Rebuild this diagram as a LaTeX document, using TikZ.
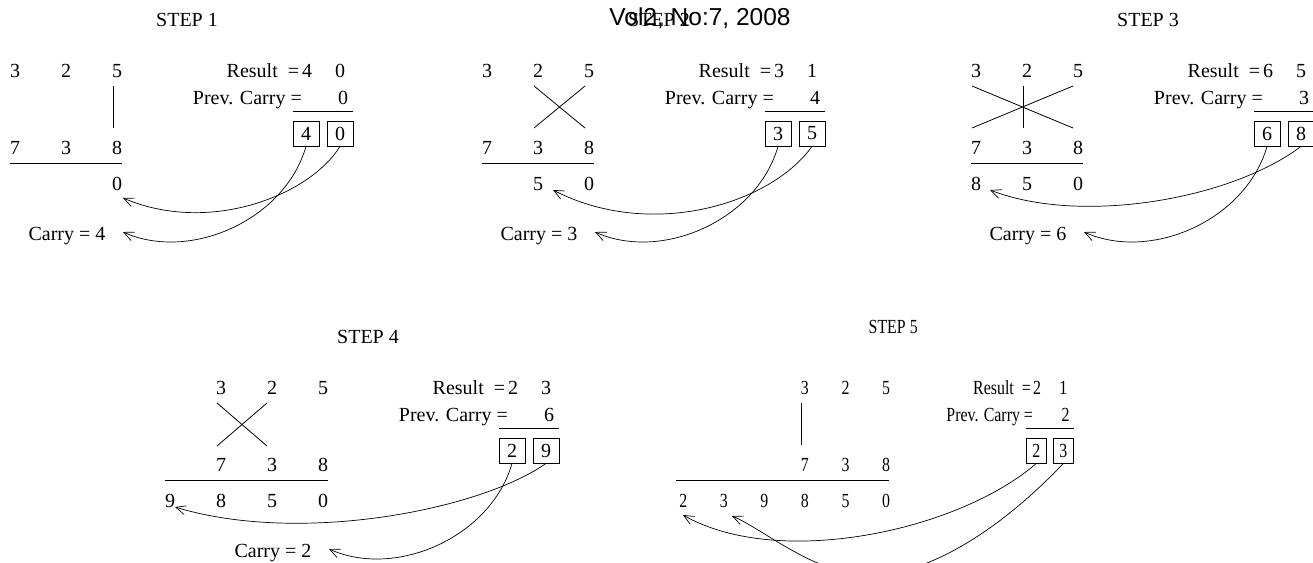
\documentclass[tikz,border=0pt]{standalone}
\usepackage{fontspec}
\setmainfont{Liberation Serif}
\newfontfamily\headfont{Liberation Sans}
\usetikzlibrary{arrows.meta}

\tikzset{
  num/.style={anchor=base, inner sep=0pt},
  lbl/.style={anchor=base east, inner sep=0pt},
  digbox/.style={draw, line width=0.8pt, minimum width=26pt, minimum height=25pt, inner sep=0pt},
  rule/.style={line width=0.8pt},
  carry/.style={line width=0.7pt, -{Straight Barb[length=10pt,width=9pt,line width=0.7pt]}}
}

\begin{document}
\begin{tikzpicture}[x=1pt, y=-1pt, font=\fontsize{20}{24}\selectfont]
  \useasboundingbox (0,0) rectangle (1313,562);
  \clip (0,0) rectangle (1313,562);

  % step 1
  \node[num] (s1st) at (187,26) {STEP 1};
  \foreach \x/\d [count=\i] in {15/3,66/2,117/5} \node[num] (s1t\i) at (\x,77.5) {\d};
  \foreach \x/\d [count=\i] in {15/7,66/3,117/8} \node[num] (s1b\i) at (\x,154.5) {\d};
  \node[num] (s1p3) at (117,190) {0};
  \draw[rule] (10,163) -- (122,163);
  \draw[rule] (113,86) -- (113,128);
  \node[lbl] (s1res) at (278,77.5) {Result};
  \node[num] (s1eq) at (300,77.5) {=\kern3pt4};
  \node[num] (s1r0) at (340,77.5) {0};
  \node[lbl] (s1prev) at (302,104.5) {Prev. Carry =};
  \node[num] (s1pc) at (343,104.5) {0};
  \draw[rule] (293,111) -- (353,111);
  \node[digbox] (s1ba) at (306,133.5) {4};
  \node[digbox] (s1bb) at (340,133.5) {0};
  \node[num] (s1c) at (67,240) {Carry = 4};
  \coordinate (s1tc) at (123,232);
  \coordinate (s1tr) at (123,198);
  \draw[carry] (s1ba.south) .. controls (285,220) and (190,262) .. (s1tc);
  \draw[carry] (s1bb.south) .. controls (310,195) and (210,235) .. (s1tr);

  % step 2
  \begin{scope}[shift={(472,0)}]
    \node[num] (s2st) at (187,26) {STEP 2};
    \foreach \x/\d [count=\i] in {15/3,66/2,117/5} \node[num] (s2t\i) at (\x,77.5) {\d};
    \foreach \x/\d [count=\i] in {15/7,66/3,117/8} \node[num] (s2b\i) at (\x,154.5) {\d};
    \foreach \x/\d [count=\i] in {66/5,117/0} \node[num] (s2p\i) at (\x,190) {\d};
    \draw[rule] (10,163) -- (122,163);
    \draw[rule] (62,86) -- (113,128);
    \draw[rule] (113,86) -- (62,128);
    \node[lbl] (s2res) at (278,77.5) {Result};
    \node[num] (s2eq) at (300,77.5) {=\kern3pt3};
    \node[num] (s2r0) at (340,77.5) {1};
    \node[lbl] (s2prev) at (302,104.5) {Prev. Carry =};
    \node[num] (s2pc) at (343,104.5) {4};
    \draw[rule] (293,111) -- (353,111);
    \node[digbox] (s2ba) at (306,133.5) {3};
    \node[digbox] (s2bb) at (340,133.5) {5};
    \node[num] (s2c) at (67,240) {Carry = 3};
    \coordinate (s2tc) at (123,232);
    \coordinate (s2tr) at (81,190);
    \draw[carry] (s2ba.south) .. controls (285,220) and (190,262) .. (s2tc);
    \draw[carry] (s2bb.south) .. controls (298,205) and (178,240) .. (s2tr);
  \end{scope}

  % step 3
  \begin{scope}[shift={(961,0)}]
    \node[num] (s3st) at (187,26) {STEP 3};
    \foreach \x/\d [count=\i] in {15/3,66/2,117/5} \node[num] (s3t\i) at (\x,77.5) {\d};
    \foreach \x/\d [count=\i] in {15/7,66/3,117/8} \node[num] (s3b\i) at (\x,154.5) {\d};
    \foreach \x/\d [count=\i] in {15/8,66/5,117/0} \node[num] (s3p\i) at (\x,190) {\d};
    \draw[rule] (10,163) -- (122,163);
    \draw[rule] (11,86) -- (112,128);
    \draw[rule] (112,86) -- (11,128);
    \draw[rule] (62,86) -- (62,128);
    \node[lbl] (s3res) at (278,77.5) {Result};
    \node[num] (s3eq) at (300,77.5) {=\kern3pt6};
    \node[num] (s3r0) at (340,77.5) {5};
    \node[lbl] (s3prev) at (302,104.5) {Prev. Carry =};
    \node[num] (s3pc) at (343,104.5) {3};
    \draw[rule] (293,111) -- (353,111);
    \node[digbox] (s3ba) at (306,133.5) {6};
    \node[digbox] (s3bb) at (340,133.5) {8};
    \node[num] (s3c) at (67,240) {Carry = 6};
    \coordinate (s3tc) at (123,232);
    \coordinate (s3tr) at (29,190);
    \draw[carry] (s3ba.south) .. controls (285,220) and (190,262) .. (s3tc);
    \draw[carry] (s3bb.south) .. controls (269,200) and (119,225) .. (s3tr);
  \end{scope}

  % step 4
  \begin{scope}[shift={(206,317)}]
    \node[num] (s4st) at (162,26) {STEP 4};
    \foreach \x/\d [count=\i] in {15/3,66/2,117/5} \node[num] (s4t\i) at (\x,77.5) {\d};
    \foreach \x/\d [count=\i] in {15/7,66/3,117/8} \node[num] (s4b\i) at (\x,154.5) {\d};
    \foreach \x/\d [count=\i] in {-36/9,15/8,66/5,117/0} \node[num] (s4p\i) at (\x,190) {\d};
    \draw[rule] (-41,163) -- (122,163);
    \draw[rule] (11,86) -- (61,129);
    \draw[rule] (61,86) -- (11,129);
    \node[lbl] (s4res) at (278,77.5) {Result};
    \node[num] (s4eq) at (300,77.5) {=\kern3pt2};
    \node[num] (s4r0) at (340,77.5) {3};
    \node[lbl] (s4prev) at (302,104.5) {Prev. Carry =};
    \node[num] (s4pc) at (343,104.5) {6};
    \draw[rule] (293,111) -- (353,111);
    \node[digbox] (s4ba) at (306,133.5) {2};
    \node[digbox] (s4bb) at (340,133.5) {9};
    \node[num] (s4c) at (67,240) {Carry = 2};
    \coordinate (s4tc) at (123,232);
    \coordinate (s4tr) at (-31,190);
    \draw[carry] (s4ba.south) .. controls (285,220) and (190,262) .. (s4tc);
    \draw[carry] (s4bb.south) .. controls (274,193) and (94,228) .. (s4tr);
  \end{scope}

  % step 5
  \begin{scope}[shift={(793,317)}, xscale=0.795, transform shape]
    \node[num] (s5st) at (126,16) {STEP 5};
    \foreach \x/\d [count=\i] in {15/3,66/2,117/5} \node[num] (s5t\i) at (\x,77.5) {\d};
    \foreach \x/\d [count=\i] in {15/7,66/3,117/8} \node[num] (s5b\i) at (\x,154.5) {\d};
    \foreach \x/\d [count=\i] in {-138/2,-87/3,-36/9,15/8,66/5,117/0} \node[num] (s5p\i) at (\x,190) {\d};
    \draw[rule] (-147,163) -- (121,163);
    \draw[rule] (10,86) -- (10,128);
    \node[lbl] (s5res) at (278,77.5) {Result};
    \node[num] (s5eq) at (300,77.5) {=\kern3pt2};
    \node[num] (s5r0) at (340,77.5) {1};
    \node[lbl] (s5prev) at (302,104.5) {Prev. Carry =};
    \node[num] (s5pc) at (343,104.5) {2};
    \draw[rule] (293,111) -- (353,111);
    \node[digbox] (s5ba) at (306,133.5) {2};
    \node[digbox] (s5bb) at (340,133.5) {3};
  \end{scope}
  \coordinate (s5t2) at (683,515);
  \coordinate (s5t3) at (732,516);
  \draw[carry] (s5ba.south) .. controls (960,530) and (780,570) .. (s5t2);
  \draw[carry] (s5bb.south) .. controls (1010,520) and (935,575) .. (870,575)
    .. controls (815,575) and (765,530) .. (s5t3);

  % header
  \node[num, font=\headfont\fontsize{24.5}{28}\selectfont] (hdr) at (700,25) {Vol2, No:7, 2008};
\end{tikzpicture}
\end{document}
